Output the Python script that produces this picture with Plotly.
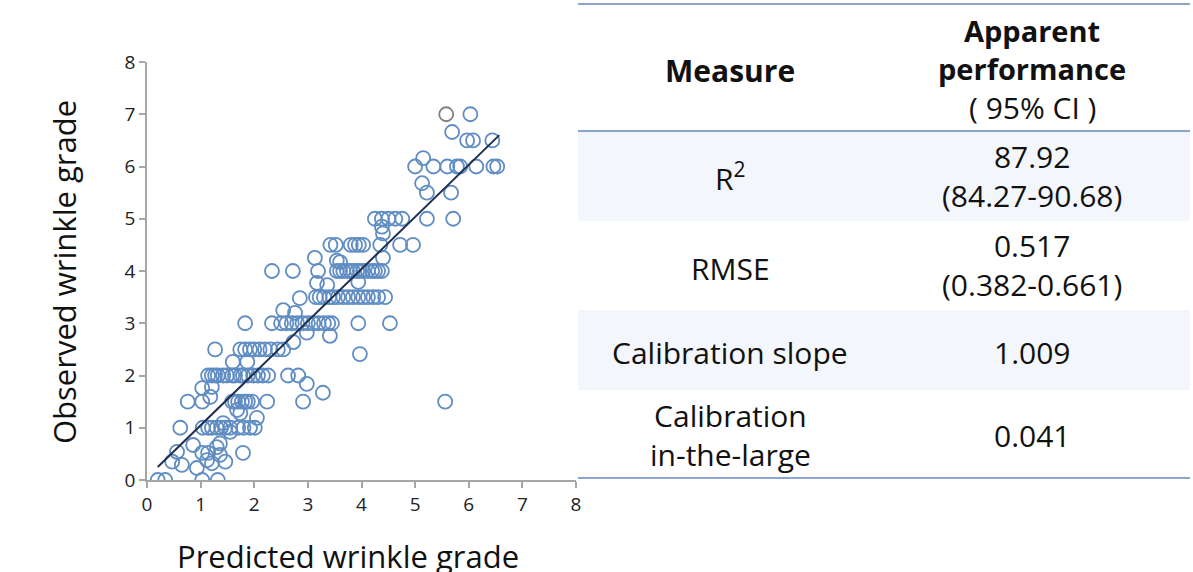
import plotly.graph_objects as go

W, H = 1193, 572

# ---------------- data ----------------
pred = [
    6.03,
    5.69,
    5.97, 6.08, 6.44,
    5.15,
    5.0, 5.34, 5.6, 5.78, 5.84, 6.14, 6.46, 6.53,
    5.13,
    5.22, 5.67,
    4.25, 4.38, 4.5, 4.63, 4.76, 5.22, 5.71,
    4.38, 4.4,
    3.42, 3.52, 3.8, 3.88, 3.95, 4.03, 4.35, 4.72, 4.96,
    3.13, 4.4, 3.54, 3.6,
    2.33, 2.72, 3.19, 3.54, 3.6, 3.66, 3.73, 3.79, 3.84, 3.92, 3.97, 4.03, 4.12, 4.2, 4.25, 4.31, 4.38,
    3.17, 3.36, 3.94,
    2.85, 3.15, 3.22, 3.3, 3.4, 3.47, 3.56, 3.66, 3.75, 3.84, 3.94, 4.03, 4.12, 4.22, 4.31, 4.44,
    2.54, 2.76,
    1.83, 2.33, 2.5, 2.6, 2.7, 2.8, 2.9, 3.0, 3.1, 3.2, 3.3, 3.38, 3.45, 3.94, 4.53,
    2.98, 3.41, 2.73,
    1.27, 1.74, 1.83, 1.92, 2.0, 2.1, 2.2, 2.3, 2.44, 2.54,
    3.97,
    1.6, 1.87,
    1.14, 1.21, 1.27, 1.32, 1.42, 1.49, 1.59, 1.64, 1.74, 1.79, 1.88, 1.98, 2.07, 2.16, 2.26, 2.63, 2.82,
    2.98,
    1.03, 1.21,
    3.28,
    0.76, 1.03, 1.59, 1.64, 1.7, 1.77, 1.83, 1.88, 1.96, 2.24, 2.91, 5.56, 1.18,
    1.74, 1.68,
    2.05,
    0.62, 1.04, 1.14, 1.21, 1.3, 1.38, 1.46, 1.55, 1.7, 1.8, 1.92, 2.01,
    1.42, 1.55,
    1.36, 0.86, 1.3,
    1.03, 1.14, 1.79, 0.56, 1.36,
    0.47, 1.46, 1.12, 1.21, 0.65, 0.93,
    0.2, 0.34, 1.03, 1.32,
]
obs = [
    7.0,
    6.66,
    6.5, 6.5, 6.5,
    6.16,
    6.0, 6.0, 6.0, 6.0, 6.0, 6.0, 6.0, 6.0,
    5.68,
    5.5, 5.5,
    5.0, 5.0, 5.0, 5.0, 5.0, 5.0, 5.0,
    4.85, 4.72,
    4.5, 4.5, 4.5, 4.5, 4.5, 4.5, 4.5, 4.5, 4.5,
    4.25, 4.25, 4.2, 4.17,
    4.0, 4.0, 4.0, 4.0, 4.0, 4.0, 4.0, 4.0, 4.0, 4.0, 4.0, 4.0, 4.0, 4.0, 4.0, 4.0, 4.0,
    3.77, 3.73, 3.79,
    3.48, 3.5, 3.5, 3.5, 3.5, 3.5, 3.5, 3.5, 3.5, 3.5, 3.5, 3.5, 3.5, 3.5, 3.5, 3.5,
    3.25, 3.2,
    3.0, 3.0, 3.0, 3.0, 3.0, 3.0, 3.0, 3.0, 3.0, 3.0, 3.0, 3.0, 3.0, 3.0, 3.0,
    2.82, 2.76, 2.64,
    2.5, 2.5, 2.5, 2.5, 2.5, 2.5, 2.5, 2.5, 2.5, 2.5,
    2.41,
    2.26, 2.26,
    2.0, 2.0, 2.0, 2.0, 2.0, 2.0, 2.0, 2.0, 2.0, 2.0, 2.0, 2.0, 2.0, 2.0, 2.0, 2.0, 2.0,
    1.84,
    1.76, 1.78,
    1.67,
    1.5, 1.5, 1.5, 1.5, 1.5, 1.5, 1.5, 1.5, 1.5, 1.5, 1.5, 1.5, 1.59,
    1.28, 1.34,
    1.19,
    1.0, 1.0, 1.0, 1.0, 1.0, 1.0, 1.0, 1.0, 1.0, 1.0, 1.0, 1.0,
    1.09, 0.92,
    0.7, 0.67, 0.63,
    0.52, 0.52, 0.52, 0.54, 0.48,
    0.35, 0.35, 0.38, 0.32, 0.29, 0.23,
    0.0, 0.0, 0.0, 0.0,
]
highlight_pred = [5.58]
highlight_obs = [7.0]

fit_x = [0.2, 6.57]
fit_y = [0.25, 6.6]

x_ticks = [0, 1, 2, 3, 4, 5, 6, 7, 8]
y_ticks = [0, 1, 2, 3, 4, 5, 6, 7, 8]

measures = ["R<sup>2</sup>", "RMSE", "Calibration slope", "Calibration<br>in-the-large"]
values = ["87.92<br>(84.27-90.68)", "0.517<br>(0.382-0.661)", "1.009", "0.041"]

# ---------------- helpers ----------------
def px(x):
    return x / W

def py(y):
    return 1 - y / H

FONT = "Open Sans"
BLUE = "#4f81bd"

fig = go.Figure()

fig.add_trace(go.Scatter(
    x=pred, y=obs, mode="markers",
    marker=dict(symbol="circle-open", size=14, color=BLUE, line=dict(width=1.8, color=BLUE)),
    opacity=0.9, showlegend=False, hoverinfo="skip",
))
fig.add_trace(go.Scatter(
    x=highlight_pred, y=highlight_obs, mode="markers",
    marker=dict(symbol="circle-open", size=14, color="#7f7f7f", line=dict(width=1.8, color="#7f7f7f")),
    showlegend=False, hoverinfo="skip",
))
fig.add_trace(go.Scatter(
    x=fit_x, y=fit_y, mode="lines",
    line=dict(color="#1f2f4f", width=2),
    showlegend=False, hoverinfo="skip",
))

axis_common = dict(
    range=[0, 8], showgrid=False, zeroline=False, automargin=False,
    showline=True, linecolor="#a6a6a6", linewidth=1.5,
    ticks="outside", ticklen=6, tickwidth=1.5, tickcolor="#a6a6a6",
    tickfont=dict(family=FONT, size=19, color="#222"),
    fixedrange=True,
)
fig.update_layout(
    width=W, height=H, autosize=False,
    margin=dict(l=0, r=0, t=0, b=0, pad=0, autoexpand=False),
    paper_bgcolor="white", plot_bgcolor="white",
    font=dict(family=FONT),
    xaxis=dict(domain=[px(147), px(576)], tickvals=x_ticks, ticktext=[str(v) for v in x_ticks], **axis_common),
    yaxis=dict(domain=[py(480), py(62)], tickvals=y_ticks, ticktext=[str(v) for v in y_ticks], **axis_common),
)

annotations = []
def add_text(text, xp, yp, size, angle=0):
    annotations.append(dict(text=text, x=px(xp), y=py(yp), xref="paper", yref="paper",
                            showarrow=False, textangle=angle,
                            font=dict(family=FONT, size=size, color="#111"),
                            xanchor="center", yanchor="middle"))

add_text("Predicted wrinkle grade", 348, 556, 31)
add_text("Observed wrinkle grade", 64, 272, 31, -90)

# ---------------- table ----------------
tx0, tx1 = 578, 1190
row_bounds = [(131, 221), (221, 310), (310, 390), (390, 478)]
shaded = [True, False, True, False]
measure_y = [177, 268, 352, 435]
value_y = [176, 265, 352, 436]

shapes = []
for (a, b), s in zip(row_bounds, shaded):
    if s:
        shapes.append(dict(type="rect", xref="paper", yref="paper", x0=px(tx0), x1=px(tx1),
                           y0=py(b), y1=py(a), fillcolor="#f3f6fb", line=dict(width=0), layer="below"))
for yy in [4, 131, 478]:
    shapes.append(dict(type="line", xref="paper", yref="paper", x0=px(tx0), x1=px(tx1),
                       y0=py(yy), y1=py(yy), line=dict(color="#8ba5cd", width=2)))

col1, col2 = 730, 1032
add_text("<b>Measure</b>", col1, 70, 30)
add_text("<b>Apparent</b><br><b>performance</b>", col2, 50, 29)
add_text("( 95% CI )", col2, 107, 30)
for m, v, my, vy in zip(measures, values, measure_y, value_y):
    add_text(m, col1, my, 30)
    add_text(v, col2, vy, 30)

fig.update_layout(shapes=shapes, annotations=annotations)
fig.write_html("out.html",
               config={"displayModeBar": False},
               post_script="document.body.style.margin='0';document.body.style.padding='0';")
